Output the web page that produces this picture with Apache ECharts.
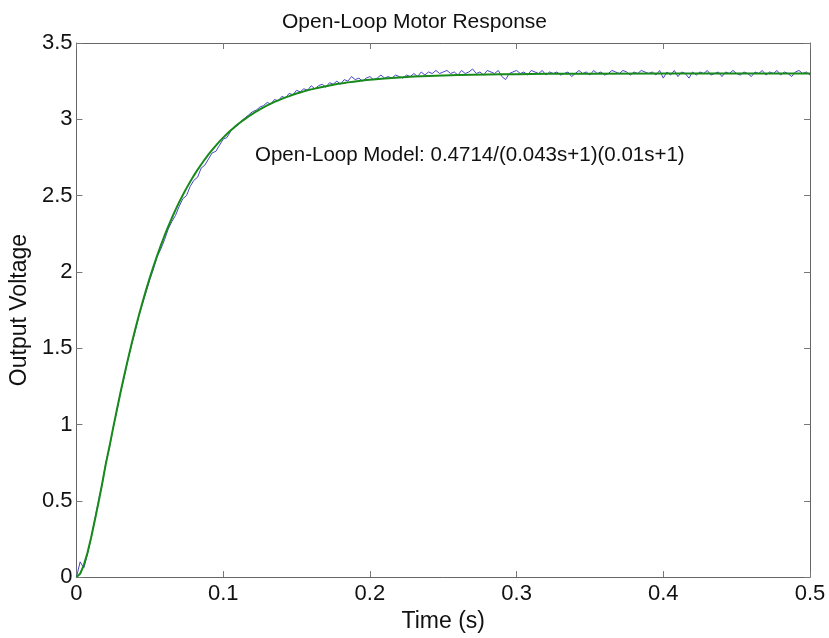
<!DOCTYPE html>
<html>
<head>
<meta charset="utf-8">
<script src="https://cdn.jsdelivr.net/npm/echarts@6/dist/echarts.min.js"></script>
<style>html,body{margin:0;padding:0;background:#fff}#c{width:829px;height:638px}</style>
</head>
<body>
<div id="c"></div>
<script>
const titleText = 'Open-Loop Motor Response';
const xName = 'Time (s)';
const yName = 'Output Voltage';
const annotation = 'Open-Loop Model: 0.4714/(0.043s+1)(0.01s+1)';

// measured (blue) samples, every 0.0025 s from 0 to 0.5 s
const measuredStep = 0.0025;
const measured = [
0,0.10,0.06,0.15,0.26,0.38,0.50,0.61,0.75,0.85,
0.98,1.09,1.21,1.31,1.42,1.52,1.61,1.71,1.79,1.87,
1.95,2.02,2.10,2.15,2.21,2.28,2.33,2.37,2.43,2.48,
2.50,2.56,2.60,2.62,2.68,2.70,2.74,2.78,2.79,2.83,
2.87,2.88,2.92,2.95,2.96,2.99,3.01,3.03,3.05,3.06,
3.08,3.09,3.11,3.10,3.13,3.12,3.15,3.14,3.17,3.16,
3.19,3.18,3.20,3.19,3.22,3.20,3.22,3.23,3.21,3.24,
3.23,3.25,3.23,3.26,3.25,3.28,3.26,3.27,3.25,3.27,
3.28,3.26,3.27,3.29,3.27,3.28,3.27,3.29,3.28,3.27,
3.29,3.28,3.30,3.28,3.31,3.29,3.31,3.30,3.32,3.30,
3.31,3.32,3.30,3.31,3.29,3.32,3.30,3.31,3.33,3.30,
3.31,3.29,3.32,3.31,3.30,3.32,3.28,3.26,3.30,3.31,
3.32,3.30,3.31,3.29,3.32,3.31,3.30,3.32,3.29,3.31,
3.30,3.31,3.29,3.30,3.31,3.28,3.30,3.32,3.30,3.31,
3.29,3.32,3.30,3.31,3.29,3.30,3.32,3.31,3.30,3.32,
3.31,3.29,3.31,3.30,3.32,3.31,3.30,3.31,3.29,3.32,
3.27,3.31,3.29,3.32,3.28,3.31,3.30,3.27,3.31,3.29,
3.31,3.30,3.32,3.29,3.30,3.31,3.28,3.31,3.30,3.32,
3.30,3.29,3.31,3.30,3.28,3.31,3.30,3.32,3.29,3.31,
3.30,3.32,3.29,3.31,3.30,3.28,3.31,3.32,3.30,3.31,
3.29
];

// model (green) curve points
const modelTime = [
0,0.0025,0.005,0.0075,0.01,0.0125,0.015,0.0175,0.02,0.0225,
0.025,0.0275,0.03,0.0325,0.035,0.0375,0.04,0.0425,0.045,0.0475,
0.05,0.0525,0.055,0.0575,0.06,0.0625,0.065,0.0675,0.07,0.0725,
0.075,0.0775,0.08,0.0825,0.085,0.0875,0.09,0.0925,0.095,0.0975,
0.1,0.1025,0.105,0.1075,0.11,0.1125,0.115,0.1175,0.12,0.1225,
0.125,0.1275,0.13,0.1325,0.135,0.1375,0.14,0.1425,0.145,0.1475,
0.15,0.1525,0.155,0.1575,0.16,0.1625,0.165,0.1675,0.17,0.1725,
0.175,0.1775,0.18,0.1825,0.185,0.1875,0.19,0.1925,0.195,0.1975,
0.2,0.21,0.22,0.23,0.24,0.25,0.26,0.27,0.28,0.29,
0.3,0.32,0.35,0.4,0.5
];
const modelValue = [
0,0.022,0.079,0.160,0.260,0.372,0.489,0.612,0.742,0.857,
0.978,1.095,1.210,1.320,1.425,1.526,1.622,1.714,1.801,1.884,
1.963,2.037,2.107,2.174,2.237,2.297,2.353,2.406,2.457,2.504,
2.549,2.591,2.631,2.669,2.704,2.738,2.770,2.800,2.828,2.855,
2.880,2.904,2.926,2.947,2.967,2.986,3.003,3.020,3.036,3.051,
3.065,3.078,3.091,3.103,3.114,3.124,3.134,3.144,3.152,3.161,
3.169,3.176,3.183,3.190,3.196,3.201,3.207,3.212,3.217,3.222,
3.226,3.231,3.235,3.238,3.242,3.245,3.248,3.251,3.254,3.257,
3.259,3.267,3.274,3.280,3.284,3.287,3.290,3.292,3.294,3.295,
3.296,3.298,3.299,3.300,3.300
];

const xTicks = { min: 0, max: 0.5, interval: 0.1 };
const yTicks = { min: 0, max: 3.5, interval: 0.5 };

const FONT = '"Liberation Sans", Arial, Helvetica, sans-serif';
const chart = echarts.init(document.getElementById('c'), null, { renderer: 'canvas' });

const axisLine = { show: true, onZero: false, lineStyle: { color: '#666', width: 1 } };
const axisTick = { show: true, inside: true, length: 6, lineStyle: { color: '#777', width: 1 } };
const lbl = { color: '#111', fontSize: 22, fontFamily: FONT };

chart.setOption({
  animation: false,
  backgroundColor: '#fff',
  title: {
    text: titleText, left: 'center', top: 7,
    textStyle: { color: '#111', fontSize: 21, fontWeight: 'normal', fontFamily: FONT }
  },
  grid: { left: 76, right: 19, top: 43, bottom: 53, show: false },
  xAxis: [
    { type: 'value', min: xTicks.min, max: xTicks.max, interval: xTicks.interval,
      name: xName, nameLocation: 'middle', nameGap: 28,
      nameTextStyle: { color: '#111', fontSize: 23, fontFamily: FONT },
      axisLine, axisTick, splitLine: { show: false },
      axisLabel: Object.assign({ margin: 6, formatter: v => String(+v.toFixed(2)) }, lbl) },
    { type: 'value', position: 'top', min: xTicks.min, max: xTicks.max, interval: xTicks.interval,
      axisLine, axisTick, splitLine: { show: false }, axisLabel: { show: false } }
  ],
  yAxis: [
    { type: 'value', min: yTicks.min, max: yTicks.max, interval: yTicks.interval,
      name: yName, nameLocation: 'middle', nameGap: 40,
      nameTextStyle: { color: '#111', fontSize: 23, fontFamily: FONT },
      axisLine, axisTick, splitLine: { show: false },
      axisLabel: Object.assign({ margin: 4, formatter: v => String(+v.toFixed(2)) }, lbl) },
    { type: 'value', position: 'right', min: yTicks.min, max: yTicks.max, interval: yTicks.interval,
      axisLine, axisTick, splitLine: { show: false }, axisLabel: { show: false } }
  ],
  series: [
    { name: 'Measured', type: 'line', showSymbol: false, symbol: 'none',
      data: measured.map((v, i) => [i * measuredStep, v]),
      lineStyle: { color: '#4646c8', width: 1 }, z: 2 },
    { name: 'Model', type: 'line', showSymbol: false, symbol: 'none', smooth: false,
      data: modelTime.map((t, i) => [t, modelValue[i]]),
      lineStyle: { color: '#178a1a', width: 2 }, z: 3 }
  ],
  graphic: [
    { type: 'text', left: 255, top: 145,
      style: { text: annotation, fill: '#111', font: '20.5px ' + FONT } }
  ]
});
</script>
</body>
</html>
